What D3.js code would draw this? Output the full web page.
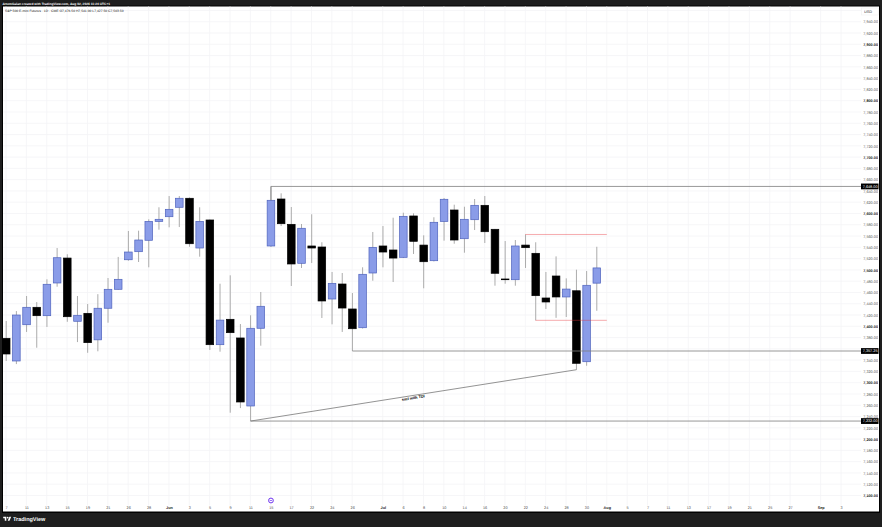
<!DOCTYPE html>
<html>
<head>
<meta charset="utf-8">
<script src="https://cdn.jsdelivr.net/npm/d3@7/dist/d3.min.js"></script>
<style>
  html, body { margin: 0; padding: 0; background: #1e1e1e; overflow: hidden; }
  text { font-family: "Liberation Sans", Arial, sans-serif; text-rendering: geometricPrecision; opacity: 0.99; }
</style>
</head>
<body>
<div id="chart"></div>
<script>
// every session on the time axis, the ones after Jul 31 have no bars yet
var dates = ["05-07","05-08","05-11","05-12","05-13","05-14","05-15","05-18","05-19","05-20","05-21","05-22","05-26","05-27","05-28","05-29",
  "06-01","06-02","06-03","06-04","06-05","06-08","06-09","06-10","06-11","06-12","06-15","06-16","06-17","06-18","06-22","06-23","06-24","06-25","06-26","06-29","06-30",
  "07-01","07-02","07-06","07-07","07-08","07-09","07-10","07-13","07-14","07-15","07-16","07-17","07-20","07-21","07-22","07-23","07-24","07-27","07-28","07-29","07-30","07-31",
  "08-03","08-04","08-05","08-06","08-07","08-10","08-11","08-12","08-13","08-14","08-17","08-18","08-19","08-20","08-21","08-24","08-25","08-26","08-27","08-28","08-31",
  "09-01","09-02","09-03"];

var opens = [7378.7,7338.5,7402.8,7433.7,7418.8,7476.8,7521,7408.9,7423,7376,7432,7465.6,7518,7532.3,7552.5,7586,7594.3,7611,7627,7538.8,7588.5,7367.4,7412.4,7379.3,7258.7,7396.5,7542.4,7625.7,7580.8,7511.7,7542.4,7540.6,7448.4,7475,7430.7,7397.5,7494.5,7542.4,7535.3,7522.3,7595.6,7544,7516.3,7586,7606.2,7555.3,7589,7614.5,7572,7483.9,7482.6,7544,7529.4,7450.2,7489.2,7452,7463,7337.2,7476.5];
var highs = [7409.4,7427,7453.7,7443,7483.3,7538.8,7527.7,7453.7,7439.5,7457,7485.6,7523,7569,7569.5,7589.7,7611,7631,7631,7628.5,7611,7589.5,7475.5,7490.4,7404,7419.5,7460.8,7648,7635.8,7611.5,7581.4,7598.6,7549,7496.3,7494.5,7459,7504.6,7567.2,7577.8,7592.5,7601.4,7600.3,7561.3,7593.3,7627.5,7615.6,7612,7625.7,7631,7572.6,7551.2,7553,7562.8,7549,7496.3,7524,7485,7500.4,7498,7541];
var lows = [7338.5,7333,7390,7362,7398.8,7470.2,7408,7372,7353,7355.7,7406.4,7465,7516.3,7514,7504.6,7571.3,7575.5,7576,7541,7523.4,7358,7355,7246.8,7255,7232,7365.6,7540.6,7577.8,7471.5,7503.4,7512.2,7414.7,7403.5,7390,7356.2,7396,7480.8,7504.6,7478.5,7521,7528.2,7467.4,7515,7551.8,7546.4,7530.5,7570.7,7547.7,7472,7475.5,7472,7503.4,7410.6,7430.7,7415,7416.5,7323,7330,7427.5];
var closes = [7350.9,7420,7433.7,7418.8,7474.5,7521.6,7417,7419.5,7371,7432,7465.6,7483.3,7531.7,7553,7586,7589.7,7607.4,7627,7546.4,7586,7367.4,7411,7388.7,7265.8,7396.5,7435.5,7623.4,7581.9,7510.5,7573.8,7538.8,7444.9,7476.2,7432.4,7395.7,7492.2,7540,7531.7,7521,7595,7550.7,7514.5,7584.4,7625.2,7553,7589.7,7614.5,7567.7,7494,7482.6,7542.4,7539.4,7454.3,7443.1,7452,7466,7334.4,7472.7,7503.5];

var tickDates = ["05-07","05-11","05-13","05-15","05-19","05-21","05-26","05-28","06-01","06-03","06-05","06-09","06-11","06-15","06-17","06-22","06-24","06-26","07-01","07-06","07-08","07-10","07-14","07-16","07-20","07-22","07-24","07-28","07-30","08-03","08-05","08-07","08-11","08-13","08-17","08-19","08-21","08-25","08-27","09-01","09-03"];
var tickLabels = ["7","11","13","15","19","21","26","28","Jun","3","5","9","11","15","17","22","24","26","Jul","6","8","10","14","16","20","22","24","28","30","Aug","5","7","11","13","17","19","21","25","27","Sep","3"];
var monthTicks = ["06-01","07-01","08-03","09-01"];

// 7,360 sits under the 7,357.25 tag, so it is left out like in the original
var priceTicks = d3.range(7100, 7941, 20).filter(d => d !== 7360);
var gridPrices = d3.range(7100, 7961, 20);

// horizontal rays: start session, price, text of the axis tag
var rayDates = ["06-15","06-26","06-11"];
var rayPrices = [7648,7356.2,7232];
var rayTags = ["7,648.00","7,357.25","7,232.00"];

// red range edges
var redStarts = ["07-22","07-23"];
var redEnd = "08-03";
var redPrices = [7562.8,7410.6];

var svgWidth = 882;
var svgHeight = 527;

var plot = { left: 3, right: 879, top: 6.5, bottom: 511.5, axisX: 861 };

var svg = d3.select("#chart")
  .append("svg")
  .attr("width", svgWidth)
  .attr("height", svgHeight)
  .style("display", "block");

var xScale = d3.scalePoint().domain(dates).range([6, 841]);
var yScale = d3.scaleLinear().domain([7100, 7900]).range([495.5, 44.3]);

// frame
svg.append("rect").attr("width", svgWidth).attr("height", svgHeight).attr("fill", "#1e1e1e");
svg.append("rect")
  .attr("x", plot.left - 1).attr("y", plot.top - 1)
  .attr("width", plot.right - plot.left + 2).attr("height", plot.bottom - plot.top + 2.5)
  .attr("fill", "#000");
svg.append("rect")
  .attr("x", plot.left).attr("y", plot.top)
  .attr("width", plot.right - plot.left).attr("height", plot.bottom - plot.top)
  .attr("fill", "#fff");

// grid
var gridGroup = svg.append("g").attr("stroke", "#f4f4f6").attr("stroke-width", 0.8);
gridGroup.selectAll(".h")
  .data(gridPrices)
  .enter().append("line")
  .attr("x1", plot.left).attr("x2", plot.axisX)
  .attr("y1", d => yScale(d)).attr("y2", d => yScale(d));
gridGroup.selectAll(".v")
  .data(tickDates)
  .enter().append("line")
  .attr("x1", d => xScale(d)).attr("x2", d => xScale(d))
  .attr("y1", plot.top).attr("y2", plot.bottom - 6);

// time axis
var bottomAxis = d3.axisBottom(xScale)
  .tickValues(tickDates)
  .tickSize(0)
  .tickPadding(0)
  .tickFormat((d, i) => tickLabels[i]);
var xAxis = svg.append("g")
  .attr("transform", "translate(0, 506)")
  .call(bottomAxis);
xAxis.select(".domain").remove();
xAxis.selectAll("text")
  .attr("font-size", 3.8)
  .attr("fill", d => monthTicks.includes(d) ? "#111" : "#555")
  .attr("font-weight", d => monthTicks.includes(d) ? "bold" : "normal");

// price axis
var rightAxis = d3.axisLeft(yScale)
  .tickValues(priceTicks)
  .tickSize(0)
  .tickPadding(0)
  .tickFormat(d3.format(",.2f"));
var yAxis = svg.append("g")
  .attr("transform", "translate(878, 0)")
  .call(rightAxis);
yAxis.select(".domain").remove();
yAxis.selectAll("text")
  .attr("font-size", 3.8)
  .attr("fill", d => d % 100 === 0 ? "#111" : "#555")
  .attr("font-weight", d => d % 100 === 0 ? "bold" : "normal");

// wicks first, bodies on top
var bars = d3.range(opens.length);

svg.append("g").selectAll("line")
  .data(bars)
  .enter().append("line")
  .attr("x1", i => xScale(dates[i]) + 0.2)
  .attr("x2", i => xScale(dates[i]) + 0.2)
  .attr("y1", i => yScale(highs[i]))
  .attr("y2", i => yScale(lows[i]))
  .attr("stroke", "#a3a3a3")
  .attr("stroke-width", 0.9);

svg.append("g").selectAll("rect")
  .data(bars)
  .enter().append("rect")
  .attr("x", i => xScale(dates[i]) - 3.6)
  .attr("width", 7.6)
  .attr("y", i => yScale(Math.max(opens[i], closes[i])))
  .attr("height", i => Math.max(0.6, Math.abs(yScale(opens[i]) - yScale(closes[i]))))
  .attr("fill", i => closes[i] >= opens[i] ? "#8a9ce8" : "#000")
  .attr("stroke", i => closes[i] >= opens[i] ? "#4f63bd" : "#000")
  .attr("stroke-width", 0.7);

// drawings
var drawGroup = svg.append("g");
rayDates.forEach(function(d, i) {
  drawGroup.append("line")
    .attr("x1", xScale(d) + 0.2).attr("x2", plot.axisX)
    .attr("y1", yScale(rayPrices[i])).attr("y2", yScale(rayPrices[i]))
    .attr("stroke", "#808080").attr("stroke-width", 0.9)
    .attr("stroke-opacity", 0.9);
});
// short vertical joining the top ray to its candle
drawGroup.append("line")
  .attr("x1", xScale("06-15") + 0.2).attr("x2", xScale("06-15") + 0.2)
  .attr("y1", yScale(7648)).attr("y2", yScale(closes[26]))
  .attr("stroke", "#8a8a8a").attr("stroke-width", 0.9);

redStarts.forEach(function(d, i) {
  drawGroup.append("line")
    .attr("x1", xScale(d)).attr("x2", xScale(redEnd))
    .attr("y1", yScale(redPrices[i])).attr("y2", yScale(redPrices[i]))
    .attr("stroke", "#e8323a").attr("stroke-opacity", 0.45).attr("stroke-width", 0.9);
});

// trend line from the June low to the Jul 29 low
var trendX1 = xScale("06-11") + 0.2;
var trendY1 = yScale(7232);
var trendX2 = xScale("07-29") + 0.2;
var trendY2 = yScale(7323);
drawGroup.append("line")
  .attr("x1", trendX1).attr("y1", trendY1)
  .attr("x2", trendX2).attr("y2", trendY2)
  .attr("stroke", "#777").attr("stroke-width", 0.8);

var trendAngle = Math.atan2(trendY2 - trendY1, trendX2 - trendX1) * 180 / Math.PI;
drawGroup.append("text")
  .attr("transform", `translate(${(trendX1 + trendX2) / 2}, ${(trendY1 + trendY2) / 2 + 3.8}) rotate(${trendAngle})`)
  .attr("text-anchor", "middle")
  .attr("font-size", 3.9)
  .attr("font-weight", "bold")
  .attr("fill", "#000")
  .text("smt with TDI");

// price tags on the axis
rayTags.forEach(function(t, i) {
  var tagY = yScale(rayPrices[i]);
  drawGroup.append("rect")
    .attr("x", 861).attr("y", tagY - 2.9)
    .attr("width", 17.5).attr("height", 5.8)
    .attr("fill", "#000");
  drawGroup.append("text")
    .attr("x", 877.5).attr("y", tagY + 1.4)
    .attr("text-anchor", "end")
    .attr("font-size", 3.8)
    .attr("fill", "#fff")
    .text(t);
});

// USD box
svg.append("rect")
  .attr("x", 861.5).attr("y", 8).attr("width", 17).attr("height", 7)
  .attr("fill", "#fff").attr("stroke", "#eee").attr("stroke-width", 0.5);
svg.append("text")
  .attr("x", 864).attr("y", 13)
  .attr("font-size", 3.8).attr("fill", "#333")
  .text("USD");

// event marker on the time axis
var markerX = xScale("06-15") + 0.2;
svg.append("circle")
  .attr("cx", markerX).attr("cy", 500.5).attr("r", 2.4)
  .attr("fill", "#fff").attr("stroke", "#6f35f0").attr("stroke-width", 1);
svg.append("line")
  .attr("x1", markerX - 1.3).attr("x2", markerX + 1.3)
  .attr("y1", 500.5).attr("y2", 500.5)
  .attr("stroke", "#6f35f0").attr("stroke-width", 0.7);

// header and legend
svg.append("text")
  .attr("x", 2.5).attr("y", 5.1)
  .attr("font-size", 3.25).attr("font-weight", "bold").attr("fill", "#fff")
  .text("ArtemGalan created with TradingView.com, Aug 02, 2026 11:24 UTC+1");
svg.append("text")
  .attr("x", 5).attr("y", 12.4)
  .attr("font-size", 3.35).attr("fill", "#222")
  .text("S&P 500 E-mini Futures \u00b7 1D \u00b7 CME  O7,476.50 H7,541.00 L7,427.50 C7,503.50");

// footer logo
svg.append("path")
  .attr("transform", "translate(3.2, 515.8) scale(0.225)")
  .attr("fill", "#fff")
  .attr("d", "M14 22H7V11H0V4h14v18zM28 22h-8l7.5-18h8L28 22z");
svg.append("circle")
  .attr("cx", 3.2 + 20 * 0.225).attr("cy", 515.8 + 8 * 0.225).attr("r", 4 * 0.225)
  .attr("fill", "#fff");
svg.append("text")
  .attr("x", 13).attr("y", 521)
  .attr("font-size", 5.5).attr("font-weight", "bold").attr("fill", "#fff")
  .text("TradingView");
</script>
</body>
</html>
